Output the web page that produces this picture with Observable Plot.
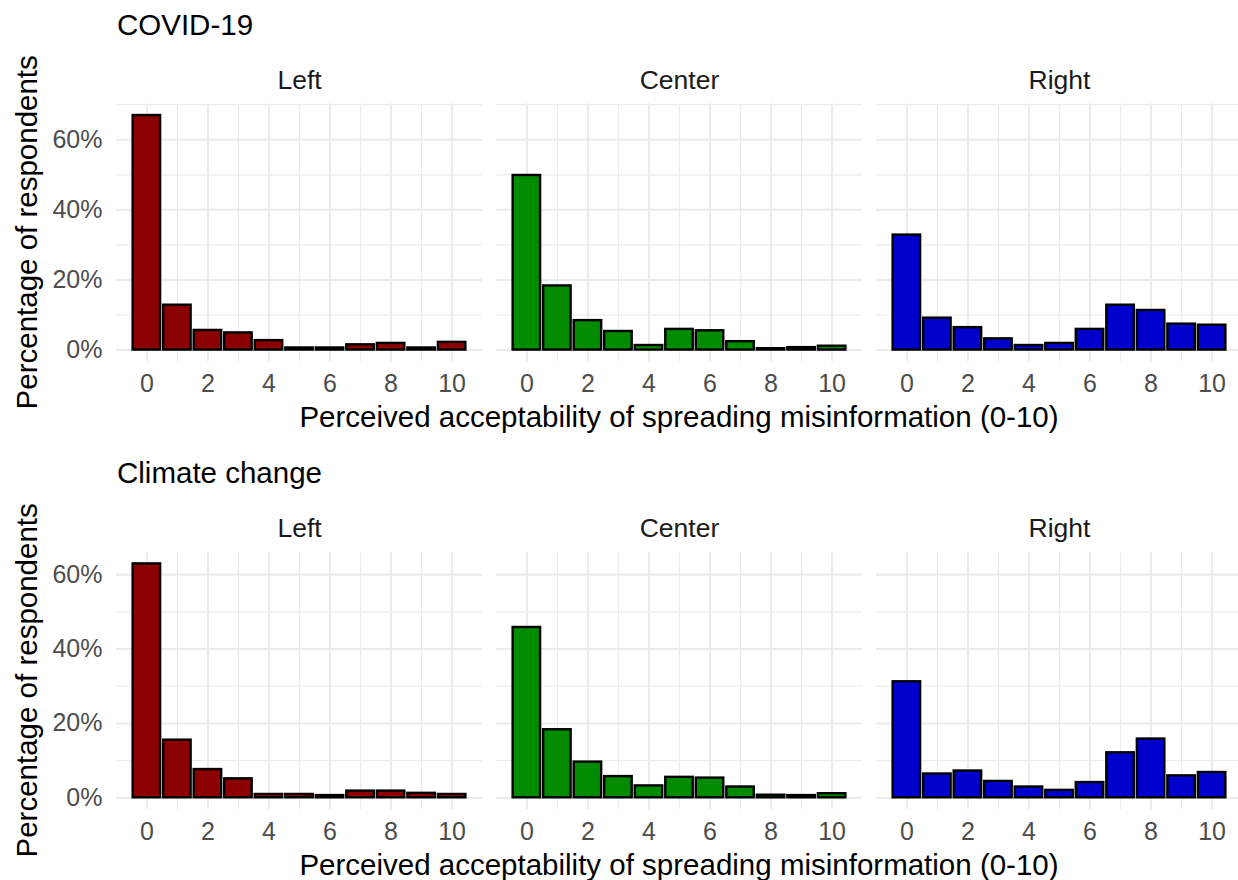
<!DOCTYPE html>
<html>
<head>
<meta charset="utf-8">
<script src="https://cdn.jsdelivr.net/npm/d3@7"></script>
<script src="https://cdn.jsdelivr.net/npm/@observablehq/plot@0.6"></script>
<style>
  html, body { margin: 0; padding: 0; background: #fff; overflow: hidden; }
  #chart { width: 1238px; height: 880px; }
  #chart svg { display: block; }
</style>
</head>
<body>
<div id="chart"></div>
<script>
// Response scale (0-10) and political groups
const scores = [0, 1, 2, 3, 4, 5, 6, 7, 8, 9, 10];
const groups = ["Left", "Center", "Right"];
const groupColors = ["#8B0000", "#008B00", "#0000CD"];
const topics = ["COVID-19", "Climate change"];

// Share of respondents (%) at each score, COVID-19 misinformation
const covidLeft   = [66.9, 12.8, 5.6, 4.9, 2.7, 0.6, 0.6, 1.5, 1.9, 0.6, 2.2];
const covidCenter = [49.8, 18.3, 8.4, 5.3, 1.3, 5.9, 5.5, 2.4, 0.4, 0.7, 1.1];
const covidRight  = [32.8, 9.1, 6.4, 3.2, 1.3, 1.9, 5.9, 12.8, 11.3, 7.4, 7.1];

// Share of respondents (%) at each score, climate change misinformation
const climateLeft   = [62.9, 15.5, 7.6, 5.1, 0.9, 0.9, 0.6, 1.8, 1.8, 1.2, 0.9];
const climateCenter = [45.8, 18.3, 9.6, 5.7, 3.2, 5.5, 5.3, 2.9, 0.7, 0.6, 1.1];
const climateRight  = [31.2, 6.4, 7.2, 4.4, 2.9, 2.0, 4.1, 12.1, 15.8, 5.9, 6.8];

// Axis ticks
const xTicks = [0, 2, 4, 6, 8, 10];
const xMinorTicks = [1, 3, 5, 7, 9];
const yTicks = [0, 20, 40, 60];
const yMinorTicks = [10, 30, 50, 70];

const xTitle = "Perceived acceptability of spreading misinformation (0-10)";
const yTitle = "Percentage of respondents";

const FONT = "'Liberation Sans', Arial, Helvetica, sans-serif";
const GRID = "#EBEBEB";
const BAR_WIDTH = 0.9;

function panel(topic, series, {height, marginTop, marginBottom}) {
  const rows = groups.flatMap((g, i) =>
    scores.map((s, j) => ({group: g, score: s, pct: series[i][j]}))
  );
  // ggplot-style 5% expansion around the data range
  const max = d3.max(rows, d => d.pct);
  const yDomain = [-0.05 * max, 1.05 * max];
  const xlo = scores[0] - BAR_WIDTH / 2, xhi = scores[scores.length - 1] + BAR_WIDTH / 2;
  const xpad = 0.05 * (xhi - xlo);
  const xDomain = [xlo - xpad, xhi + xpad];
  const inY = t => t >= yDomain[0] && t <= yDomain[1];

  const svg = Plot.plot({
    width: 1238,
    height,
    marginTop,
    marginBottom,
    marginLeft: 116,
    marginRight: -4,
    style: {fontFamily: FONT, background: "white", overflow: "visible"},
    fx: {domain: groups, paddingInner: 14 / 380, paddingOuter: 0, round: false, axis: null, label: null},
    x: {domain: xDomain, axis: null},
    y: {domain: yDomain, axis: null},
    color: {domain: groups, range: groupColors},
    marks: [
      Plot.gridY({ticks: yMinorTicks.filter(inY), stroke: GRID, strokeOpacity: 1, strokeWidth: 1.2}),
      Plot.gridY({ticks: yTicks.filter(inY), stroke: GRID, strokeOpacity: 1, strokeWidth: 2}),
      Plot.gridX({ticks: xMinorTicks, stroke: GRID, strokeOpacity: 1, strokeWidth: 1.2}),
      Plot.gridX({ticks: xTicks, stroke: GRID, strokeOpacity: 1, strokeWidth: 2}),
      Plot.rect(rows, {
        fx: "group",
        x1: d => d.score - BAR_WIDTH / 2,
        x2: d => d.score + BAR_WIDTH / 2,
        y1: () => 0,
        y2: "pct",
        fill: "group",
        stroke: "black",
        strokeWidth: 2.4
      }),
      Plot.text(groups, {
        fx: d => d,
        text: d => d,
        frameAnchor: "top",
        lineAnchor: "bottom",
        dy: -15.3,
        fontSize: 26.5,
        fill: "#1A1A1A"
      }),
      Plot.axisY({
        ticks: yTicks,
        tickFormat: d => d + "%",
        tickSize: 0,
        tickPadding: 14,
        fontSize: 25,
        color: "#4D4D4D",
        label: null
      }),
      Plot.axisX({
        ticks: xTicks,
        tickSize: 0,
        tickPadding: 12.6,
        fontSize: 25,
        color: "#4D4D4D",
        label: null
      })
    ]
  });

  const s = d3.select(svg);
  const panelTop = marginTop, panelBottom = height - marginBottom;
  // panel title
  s.append("text")
    .attr("x", 117).attr("y", 35)
    .attr("text-anchor", "start")
    .attr("font-size", 29.5).attr("fill", "black")
    .text(topic);
  // x axis title, centred over the panels
  s.append("text")
    .attr("x", (116 + 1242) / 2).attr("y", panelBottom + 65.7)
    .attr("text-anchor", "middle")
    .attr("font-size", 29.5).attr("fill", "black")
    .text(xTitle);
  // y axis title
  s.append("text")
    .attr("transform", `translate(36.7,${(panelTop + panelBottom) / 2}) rotate(-90)`)
    .attr("text-anchor", "middle")
    .attr("font-size", 29.5).attr("fill", "black")
    .text(yTitle);
  return svg;
}

const chart = document.getElementById("chart");
chart.append(panel(topics[0], [covidLeft, covidCenter, covidRight], {height: 448, marginTop: 103.3, marginBottom: 86.7}));
chart.append(panel(topics[1], [climateLeft, climateCenter, climateRight], {height: 432, marginTop: 103.7, marginBottom: 71}));
</script>
</body>
</html>
